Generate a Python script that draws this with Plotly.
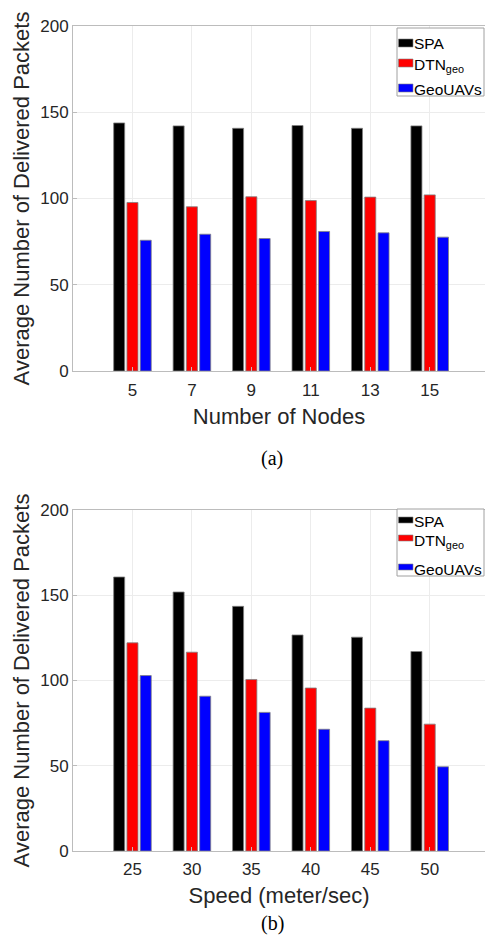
import plotly.graph_objects as go

# ---- data ----
nodes = ["5", "7", "9", "11", "13", "15"]
speeds = ["25", "30", "35", "40", "45", "50"]
series_names = ["SPA", "DTN<sub>geo</sub>", "GeoUAVs"]

spa_a = [143.8, 142.1, 140.7, 142.3, 140.7, 142.1]
dtn_a = [97.7, 95.2, 101.0, 98.8, 100.8, 102.1]
geo_a = [75.8, 79.3, 76.8, 80.9, 80.1, 77.6]

spa_b = [160.7, 151.9, 143.5, 126.7, 125.4, 117.0]
dtn_b = [122.1, 116.6, 100.6, 95.6, 83.8, 74.4]
geo_b = [102.9, 90.8, 81.3, 71.4, 64.7, 49.4]

y_ticks = [0, 50, 100, 150, 200]
colors = ["#000000", "#ff0000", "#0000ff"]

W, H = 485, 950
FONT = "Liberation Sans, Arial, sans-serif"
SERIF = "Liberation Serif, Times New Roman, serif"

fig = go.Figure()

for vals, name, col in zip([spa_a, dtn_a, geo_a], series_names, colors):
    fig.add_trace(go.Bar(x=nodes, y=vals, name=name, marker_color=col,
                         marker_line=dict(color="#808080", width=0.8),
                         xaxis="x", yaxis="y", showlegend=False))
for vals, name, col in zip([spa_b, dtn_b, geo_b], series_names, colors):
    fig.add_trace(go.Bar(x=speeds, y=vals, name=name, marker_color=col,
                         marker_line=dict(color="#808080", width=0.8),
                         xaxis="x2", yaxis="y2", showlegend=False))

left = 73 / W
ax_common = dict(showline=True, linecolor="#bcbcbc", linewidth=1, mirror=True,
                 showgrid=True, gridcolor="#ececec", gridwidth=1,
                 ticks="inside", ticklen=4, tickcolor="#bcbcbc",
                 tickfont=dict(family=FONT, size=17, color="#262626"),
                 zeroline=False, automargin=False)
title_font = dict(family=FONT, size=22, color="#262626")

# ---- legend drawn as paper-positioned shapes + text (pixel positions) ----
shapes = []
annotations = []


def px_x(x):
    return x / W


def px_y(y):
    return 1 - y / H


def add_legend(box, swatches, texts):
    x0, y0, x1, y1 = box
    shapes.append(dict(type="rect", xref="paper", yref="paper",
                       x0=px_x(x0), x1=px_x(x1), y0=px_y(y1), y1=px_y(y0),
                       line=dict(color="#a0a0a0", width=1), fillcolor="white", layer="above"))
    for (sy0, sy1), col in zip(swatches, colors):
        shapes.append(dict(type="rect", xref="paper", yref="paper",
                           x0=px_x(398.5), x1=px_x(413), y0=px_y(sy1), y1=px_y(sy0),
                           line=dict(color="#808080", width=0.6), fillcolor=col, layer="above"))
    for ty, name in zip(texts, series_names):
        annotations.append(dict(text=name, x=px_x(411.5), y=px_y(ty), xref="paper", yref="paper",
                                xanchor="left", yanchor="middle", showarrow=False,
                                font=dict(family=FONT, size=15.5, color="#000000")))


add_legend((397, 28, 484, 96), [(39, 47), (59, 67), (84, 92)], [43, 65.5, 89])
add_legend((397, 509, 484, 576), [(517, 523), (535, 541), (564, 570)], [521, 541, 569])

annotations += [
    dict(text="(a)", x=px_x(272), y=px_y(458), xref="paper", yref="paper",
         showarrow=False, font=dict(family=SERIF, size=20, color="#000000")),
    dict(text="(b)", x=px_x(272), y=px_y(937), xref="paper", yref="paper",
         showarrow=False, font=dict(family=SERIF, size=20, color="#000000")),
]

fig.update_layout(
    width=W, height=H,
    margin=dict(l=0, r=0, t=0, b=0),
    plot_bgcolor="white", paper_bgcolor="white",
    barmode="group", bargap=0.33, bargroupgap=0.17,
    xaxis=dict(domain=[left, 1], anchor="y", type="category", range=[-1, 5.93],
               ticklabelstandoff=4,
               title=dict(text="Number of Nodes", font=title_font, standoff=9),
               **ax_common),
    yaxis=dict(domain=[1 - 371 / H, 1 - 26 / H], anchor="x", range=[0, 200], tickvals=y_ticks,
               title=dict(text="Average Number of Delivered Packets", font=title_font, standoff=4),
               **ax_common),
    xaxis2=dict(domain=[left, 1], anchor="y2", type="category", range=[-1, 5.93],
                ticklabelstandoff=3,
                title=dict(text="Speed (meter/sec)", font=title_font, standoff=9),
                **ax_common),
    yaxis2=dict(domain=[1 - 851 / H, 1 - 510 / H], anchor="x2", range=[0, 200], tickvals=y_ticks,
                title=dict(text="Average Number of Delivered Packets", font=title_font, standoff=4),
                **ax_common),
    shapes=shapes,
    annotations=annotations,
)

post = ("document.body.style.margin='0';document.body.style.padding='0';"
        "document.documentElement.style.overflow='hidden';document.body.style.overflow='hidden';"
        "Plotly.relayout(document.getElementById('{plot_id}'), {width: 485, height: 950});")

fig.write_html("out.html", config={"responsive": False, "displayModeBar": False}, post_script=post)
